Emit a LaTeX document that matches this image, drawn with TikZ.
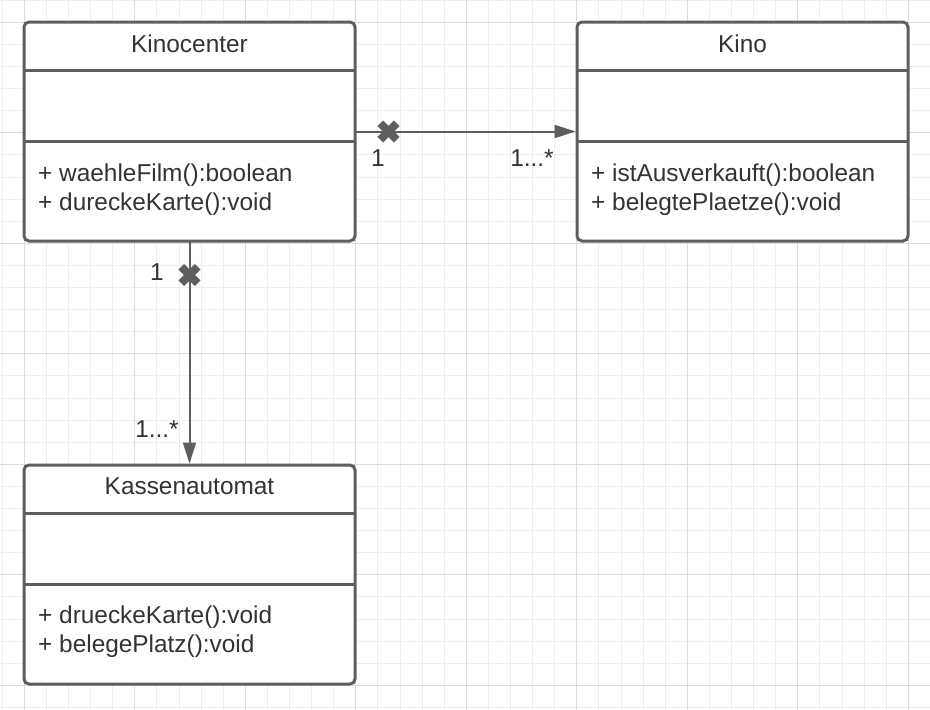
\documentclass[tikz,border=0pt]{standalone}
\usepackage{fontspec}
\setmainfont{Liberation Sans}
\usetikzlibrary{arrows.meta}
\definecolor{gridminor}{HTML}{EEEEEE}
\definecolor{gridmajor}{HTML}{DCDCDC}
\definecolor{boxgray}{HTML}{5E5E5E}
\definecolor{textgray}{HTML}{333333}
\begin{document}
\begin{tikzpicture}[x=1pt,y=-1pt,
  umlbox/.style={draw=boxgray, line width=3pt, rounded corners=5pt, fill=white,
    minimum width=331pt, minimum height=219pt, anchor=north west, inner sep=0pt, outer sep=0pt},
  sepline/.style={draw=boxgray, line width=3pt},
  title/.style={text=textgray, font=\fontsize{24.4}{29}\selectfont},
  member/.style={text=textgray, font=\fontsize{24.4}{29}\selectfont, anchor=west, inner sep=0pt},
  mult/.style={text=textgray, font=\fontsize{24.4}{29}\selectfont, inner sep=0pt},
  conn/.style={draw=boxgray, line width=2pt, -{Triangle[length=21pt,width=13pt]}, shorten >=1.5pt},
  xmark/.style={draw=boxgray, line width=8pt}]

% background and grid
\fill[white] (0,0) rectangle (930,710);
\useasboundingbox (0,0) rectangle (930,710);
\foreach \i in {0,...,42} {
  \draw[gridminor, line width=1pt] ({2.2+22.1*\i},0) -- ({2.2+22.1*\i},710);
}
\foreach \i in {0,...,32} {
  \draw[gridminor, line width=1pt] (0,{0.2+22.1*\i}) -- (930,{0.2+22.1*\i});
}
\foreach \i in {0,...,8} {
  \draw[gridmajor, line width=1pt] ({24.3+110.5*\i},0) -- ({24.3+110.5*\i},710);
}
\foreach \i in {-1,...,6} {
  \draw[gridmajor, line width=1pt] (0,{22.3+110.5*\i}) -- (930,{22.3+110.5*\i});
}

% class boxes
\node[umlbox] (kc) at (24,22) {};
\node[umlbox] (k) at (577,22) {};
\node[umlbox] (ka) at (24,465) {};

% compartment separators
\foreach \b in {kc,k,ka} {
  \draw[sepline] ([yshift=-48pt]\b.north west) -- ([yshift=-48pt]\b.north east);
  \draw[sepline] ([yshift=-119pt]\b.north west) -- ([yshift=-119pt]\b.north east);
}

% titles
\node[title] (kct) at ([yshift=-21.5pt]kc.north) {Kinocenter};
\node[title] (kt) at ([yshift=-21.5pt]k.north) {Kino};
\node[title] (kat) at ([yshift=-21.5pt]ka.north) {Kassenautomat};

% operations
\node[member] (kcm1) at (38,175.5) {+ waehleFilm():boolean};
\node[member] (kcm2) at (38,204.5) {+ dureckeKarte():void};
\node[member] (km1) at (591,175.5) {+ istAusverkauft():boolean};
\node[member] (km2) at (591,204.5) {+ belegtePlaetze():void};
\node[member] (kam1) at (38,617.5) {+ drueckeKarte():void};
\node[member] (kam2) at (38,646.5) {+ belegePlatz():void};

% associations
\draw[conn] (kc.east) -- (k.west);
\draw[conn] (kc.south) -- (ka.north);

% navigability crosses
\coordinate (x1) at (388.5,131.5);
\coordinate (x2) at (189.5,275);
\foreach \c in {x1,x2} {
  \draw[xmark] (\c) ++(-8.2,-8.2) -- ++(16.4,16.4);
  \draw[xmark] (\c) ++(-8.2,8.2) -- ++(16.4,-16.4);
}

% multiplicities
\node[mult] (m1) at (378,158.5) {1};
\node[mult] (m2) at (532,158.5) {1...*};
\node[mult] (m3) at (157,272) {1};
\node[mult] (m4) at (157,429) {1...*};
\end{tikzpicture}
\end{document}
